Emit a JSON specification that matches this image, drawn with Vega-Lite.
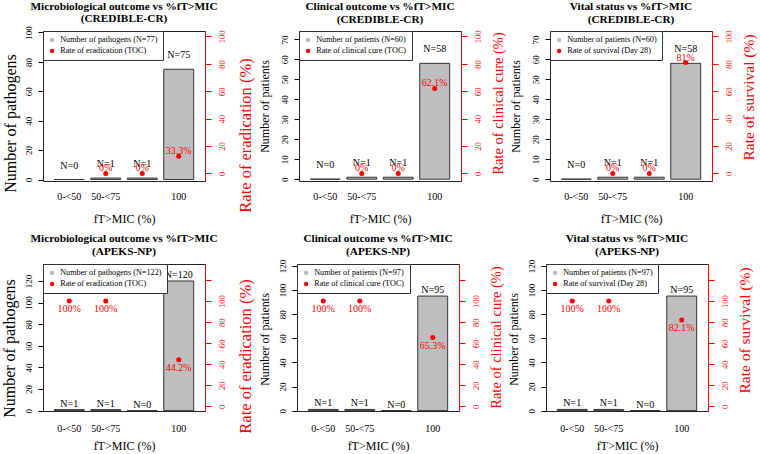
{
  "$schema": "https://vega.github.io/schema/vega-lite/v6.json",
  "padding": {"left": 0, "top": 0, "right": 0, "bottom": 0},
  "autosize": {"type": "pad"},
  "background": "white",
  "config": {
    "font": "Liberation Serif",
    "view": {"stroke": "#222", "strokeWidth": 1},
    "text": {"font": "Liberation Serif"},
    "axis": {"grid": false, "labelOverlap": false, "labelFont": "Liberation Serif", "titleFont": "Liberation Serif", "titleFontWeight": "normal", "labelColor": "black", "titleColor": "black", "tickColor": "black", "domainColor": "black"},
    "title": {"font": "Liberation Serif", "fontSize": 11.3, "fontWeight": "bold", "lineHeight": 12.5, "offset": 5, "color": "black"},
    "legend": {"orient": "top-left", "offset": 0, "padding": 5, "strokeColor": "#333", "fillColor": "white", "labelFont": "Liberation Serif", "labelFontSize": 8.2, "symbolType": "circle", "symbolSize": 20, "symbolStrokeWidth": 0, "rowPadding": 2, "labelOffset": 4, "labelLimit": 300, "cornerRadius": 0, "title": null}
  },
  "datasets": {
    "p1": [
      {"cat": "0-<50", "n": 0, "nlab": "N=0", "rate": null, "pct": null},
      {"cat": "50-<75", "n": 1, "nlab": "N=1", "rate": 0, "pct": "0%"},
      {"cat": "75-<100", "n": 1, "nlab": "N=1", "rate": 0, "pct": "0%"},
      {"cat": "100", "n": 75, "nlab": "N=75", "rate": 12.6, "pct": "33.3%"}
    ],
    "p2": [
      {"cat": "0-<50", "n": 0, "nlab": "N=0", "rate": null, "pct": null},
      {"cat": "50-<75", "n": 1, "nlab": "N=1", "rate": 0, "pct": "0%"},
      {"cat": "75-<100", "n": 1, "nlab": "N=1", "rate": 0, "pct": "0%"},
      {"cat": "100", "n": 58, "nlab": "N=58", "rate": 62.1, "pct": "62.1%"}
    ],
    "p3": [
      {"cat": "0-<50", "n": 0, "nlab": "N=0", "rate": null, "pct": null},
      {"cat": "50-<75", "n": 1, "nlab": "N=1", "rate": 0, "pct": "0%"},
      {"cat": "75-<100", "n": 1, "nlab": "N=1", "rate": 0, "pct": "0%"},
      {"cat": "100", "n": 58, "nlab": "N=58", "rate": 81, "pct": "81%"}
    ],
    "p4": [
      {"cat": "0-<50", "n": 1, "nlab": "N=1", "rate": 100, "pct": "100%"},
      {"cat": "50-<75", "n": 1, "nlab": "N=1", "rate": 100, "pct": "100%"},
      {"cat": "75-<100", "n": 0, "nlab": "N=0", "rate": null, "pct": null},
      {"cat": "100", "n": 120, "nlab": "N=120", "rate": 44.2, "pct": "44.2%"}
    ],
    "p5": [
      {"cat": "0-<50", "n": 1, "nlab": "N=1", "rate": 100, "pct": "100%"},
      {"cat": "50-<75", "n": 1, "nlab": "N=1", "rate": 100, "pct": "100%"},
      {"cat": "75-<100", "n": 0, "nlab": "N=0", "rate": null, "pct": null},
      {"cat": "100", "n": 95, "nlab": "N=95", "rate": 65.3, "pct": "65.3%"}
    ],
    "p6": [
      {"cat": "0-<50", "n": 1, "nlab": "N=1", "rate": 100, "pct": "100%"},
      {"cat": "50-<75", "n": 1, "nlab": "N=1", "rate": 100, "pct": "100%"},
      {"cat": "75-<100", "n": 0, "nlab": "N=0", "rate": null, "pct": null},
      {"cat": "100", "n": 95, "nlab": "N=95", "rate": 82.1, "pct": "82.1%"}
    ]
  },
  "resolve": {"scale": {"color": "independent"}, "legend": {"color": "independent"}},
  "spacing": 7,
  "vconcat": [
    {
      "spacing": 3,
      "resolve": {"scale": {"color": "independent"}, "legend": {"color": "independent"}},
      "hconcat": [
        {
          "title": {"text": ["Microbiological outcome vs %fT>MIC", "(CREDIBLE-CR)"], "offset": 1},
          "width": 162, "height": 150,
          "data": {"name": "p1"},
          "encoding": {"x": {"field": "cat", "type": "nominal", "sort": ["0-<50", "50-<75", "75-<100", "100"], "scale": {"paddingInner": 0.18, "paddingOuter": 0.31}, "axis": {"title": "fT>MIC (%)", "labelAngle": 0, "ticks": false, "domain": false, "labelPadding": 10, "labelExpr": "datum.value == '75-<100' ? '' : datum.label", "titlePadding": 12, "labelFontSize": 10, "titleFontSize": 12}}},
          "layer": [
            {"layer": [
              {"mark": {"type": "bar", "stroke": "#333", "strokeWidth": 1},
               "encoding": {
                 "y": {"field": "n", "type": "quantitative", "scale": {"domain": [-1, 101], "nice": false, "zero": false}, "axis": {"values": [0, 20, 40, 60, 80, 100], "tickCount": 20, "labelOverlap": false, "title": "Number of pathogens", "labelAngle": -90, "labelAlign": "center", "labelBaseline": "bottom", "tickSize": 5, "labelPadding": 5, "labelFontSize": 9, "titleFontSize": 16, "titleX": -33, "titleY": 92, "titleAngle": 270, "titleAlign": "center", "titleBaseline": "middle", "domain": false}},
                 "color": {"datum": "Number of pathogens (N=77)", "type": "nominal", "scale": {"domain": ["Number of pathogens (N=77)", "Rate of eradication (TOC)"], "range": ["#BEBEBE", "#FF0000"]}}}},
              {"mark": {"type": "text", "dy": -14, "fontSize": 10, "color": "black"},
               "encoding": {"y": {"field": "n", "type": "quantitative"}, "text": {"field": "nlab"}}}
            ]},
            {"transform": [{"filter": "datum.rate != null"}],
             "layer": [
              {"mark": {"type": "point", "filled": true, "size": 25, "opacity": 1},
               "encoding": {
                 "y": {"field": "rate", "type": "quantitative", "scale": {"domain": [-5.5, 104], "nice": false, "zero": false}, "axis": {"orient": "right", "values": [0, 20, 40, 60, 80, 100], "tickCount": 20, "labelOverlap": false, "title": "Rate of eradication (%)", "labelAngle": -90, "labelAlign": "center", "labelBaseline": "top", "tickSize": 6, "labelPadding": 6, "labelFontSize": 8.5, "titleFontSize": 16.5, "titleX": 40, "titleY": 104, "titleAngle": 270, "titleAlign": "center", "titleBaseline": "middle", "labelColor": "red", "tickColor": "red", "domainColor": "red", "titleColor": "red"}},
                 "color": {"datum": "Rate of eradication (TOC)", "type": "nominal"}}},
              {"mark": {"type": "text", "dy": -5, "fontSize": 10, "color": "red"},
               "encoding": {"y": {"field": "rate", "type": "quantitative"}, "text": {"field": "pct"}}}
            ]}
          ],
          "resolve": {"scale": {"y": "independent"}}
        },
        {
          "title": {"text": ["Clinical outcome vs %fT>MIC", "(CREDIBLE-CR)"], "offset": 5},
          "width": 162, "height": 150,
          "data": {"name": "p2"},
          "encoding": {"x": {"field": "cat", "type": "nominal", "sort": ["0-<50", "50-<75", "75-<100", "100"], "scale": {"paddingInner": 0.18, "paddingOuter": 0.31}, "axis": {"title": "fT>MIC (%)", "labelAngle": 0, "ticks": false, "domain": false, "labelPadding": 10, "labelExpr": "datum.value == '75-<100' ? '' : datum.label", "titlePadding": 12, "labelFontSize": 10, "titleFontSize": 12}}},
          "layer": [
            {"layer": [
              {"mark": {"type": "bar", "stroke": "#333", "strokeWidth": 1},
               "encoding": {
                 "y": {"field": "n", "type": "quantitative", "scale": {"domain": [-0.9, 74.2], "nice": false, "zero": false}, "axis": {"values": [0, 10, 20, 30, 40, 50, 60, 70], "tickCount": 20, "labelOverlap": false, "title": "Number of patients", "labelAngle": -90, "labelAlign": "center", "labelBaseline": "bottom", "tickSize": 5, "labelPadding": 5, "labelFontSize": 9, "titleFontSize": 12, "titleX": -35, "titleY": 75, "titleAngle": 270, "titleAlign": "center", "titleBaseline": "middle", "domain": false}},
                 "color": {"datum": "Number of patients (N=60)", "type": "nominal", "scale": {"domain": ["Number of patients (N=60)", "Rate of clinical cure (TOC)"], "range": ["#BEBEBE", "#FF0000"]}}}},
              {"mark": {"type": "text", "dy": -14, "fontSize": 10, "color": "black"},
               "encoding": {"y": {"field": "n", "type": "quantitative"}, "text": {"field": "nlab"}}}
            ]},
            {"transform": [{"filter": "datum.rate != null"}],
             "layer": [
              {"mark": {"type": "point", "filled": true, "size": 25, "opacity": 1},
               "encoding": {
                 "y": {"field": "rate", "type": "quantitative", "scale": {"domain": [-5.5, 104], "nice": false, "zero": false}, "axis": {"orient": "right", "values": [0, 20, 40, 60, 80, 100], "tickCount": 20, "labelOverlap": false, "title": "Rate of clinical cure (%)", "labelAngle": -90, "labelAlign": "center", "labelBaseline": "top", "tickSize": 6, "labelPadding": 6, "labelFontSize": 8.5, "titleFontSize": 14.5, "titleX": 37, "titleY": 72, "titleAngle": 270, "titleAlign": "center", "titleBaseline": "middle", "labelColor": "red", "tickColor": "red", "domainColor": "red", "titleColor": "red"}},
                 "color": {"datum": "Rate of clinical cure (TOC)", "type": "nominal"}}},
              {"mark": {"type": "text", "dy": -5, "fontSize": 10, "color": "red"},
               "encoding": {"y": {"field": "rate", "type": "quantitative"}, "text": {"field": "pct"}}}
            ]}
          ],
          "resolve": {"scale": {"y": "independent"}}
        },
        {
          "title": {"text": ["Vital status vs %fT>MIC", "(CREDIBLE-CR)"], "offset": 5},
          "width": 162, "height": 150,
          "data": {"name": "p3"},
          "encoding": {"x": {"field": "cat", "type": "nominal", "sort": ["0-<50", "50-<75", "75-<100", "100"], "scale": {"paddingInner": 0.18, "paddingOuter": 0.31}, "axis": {"title": "fT>MIC (%)", "labelAngle": 0, "ticks": false, "domain": false, "labelPadding": 10, "labelExpr": "datum.value == '75-<100' ? '' : datum.label", "titlePadding": 12, "labelFontSize": 10, "titleFontSize": 12}}},
          "layer": [
            {"layer": [
              {"mark": {"type": "bar", "stroke": "#333", "strokeWidth": 1},
               "encoding": {
                 "y": {"field": "n", "type": "quantitative", "scale": {"domain": [-0.9, 74.2], "nice": false, "zero": false}, "axis": {"values": [0, 10, 20, 30, 40, 50, 60, 70], "tickCount": 20, "labelOverlap": false, "title": "Number of patients", "labelAngle": -90, "labelAlign": "center", "labelBaseline": "bottom", "tickSize": 5, "labelPadding": 5, "labelFontSize": 9, "titleFontSize": 12, "titleX": -35, "titleY": 75, "titleAngle": 270, "titleAlign": "center", "titleBaseline": "middle", "domain": false}},
                 "color": {"datum": "Number of patients (N=60)", "type": "nominal", "scale": {"domain": ["Number of patients (N=60)", "Rate of survival (Day 28)"], "range": ["#BEBEBE", "#FF0000"]}}}},
              {"mark": {"type": "text", "dy": -14, "fontSize": 10, "color": "black"},
               "encoding": {"y": {"field": "n", "type": "quantitative"}, "text": {"field": "nlab"}}}
            ]},
            {"transform": [{"filter": "datum.rate != null"}],
             "layer": [
              {"mark": {"type": "point", "filled": true, "size": 25, "opacity": 1},
               "encoding": {
                 "y": {"field": "rate", "type": "quantitative", "scale": {"domain": [-5.5, 104], "nice": false, "zero": false}, "axis": {"orient": "right", "values": [0, 20, 40, 60, 80, 100], "tickCount": 20, "labelOverlap": false, "title": "Rate of survival (%)", "labelAngle": -90, "labelAlign": "center", "labelBaseline": "top", "tickSize": 6, "labelPadding": 6, "labelFontSize": 8.5, "titleFontSize": 15.5, "titleX": 36, "titleY": 66, "titleAngle": 270, "titleAlign": "center", "titleBaseline": "middle", "labelColor": "red", "tickColor": "red", "domainColor": "red", "titleColor": "red"}},
                 "color": {"datum": "Rate of survival (Day 28)", "type": "nominal"}}},
              {"mark": {"type": "text", "dy": -5, "fontSize": 10, "color": "red"},
               "encoding": {"y": {"field": "rate", "type": "quantitative"}, "text": {"field": "pct"}}}
            ]}
          ],
          "resolve": {"scale": {"y": "independent"}}
        }
      ]
    },
    {
      "spacing": 3,
      "resolve": {"scale": {"color": "independent"}, "legend": {"color": "independent"}},
      "hconcat": [
        {
          "title": {"text": ["Microbiological outcome vs %fT>MIC", "(APEKS-NP)"], "offset": 6.5},
          "width": 162, "height": 147,
          "data": {"name": "p4"},
          "encoding": {"x": {"field": "cat", "type": "nominal", "sort": ["0-<50", "50-<75", "75-<100", "100"], "scale": {"paddingInner": 0.18, "paddingOuter": 0.31}, "axis": {"title": "fT>MIC (%)", "labelAngle": 0, "ticks": false, "domain": false, "labelPadding": 12, "labelExpr": "datum.value == '75-<100' ? '' : datum.label", "titlePadding": 7, "labelFontSize": 10, "titleFontSize": 12}}},
          "layer": [
            {"layer": [
              {"mark": {"type": "bar", "stroke": "#333", "strokeWidth": 1},
               "encoding": {
                 "y": {"field": "n", "type": "quantitative", "scale": {"domain": [-0.3, 135.7], "nice": false, "zero": false}, "axis": {"values": [0, 20, 40, 60, 80, 100, 120], "tickCount": 20, "labelOverlap": false, "title": "Number of pathogens", "labelAngle": -90, "labelAlign": "center", "labelBaseline": "bottom", "tickSize": 5, "labelPadding": 5, "labelFontSize": 9, "titleFontSize": 16, "titleX": -34, "titleY": 84, "titleAngle": 270, "titleAlign": "center", "titleBaseline": "middle", "domain": false}},
                 "color": {"datum": "Number of pathogens (N=122)", "type": "nominal", "scale": {"domain": ["Number of pathogens (N=122)", "Rate of eradication (TOC)"], "range": ["#BEBEBE", "#FF0000"]}}}},
              {"mark": {"type": "text", "dy": -6, "fontSize": 10, "color": "black"},
               "encoding": {"y": {"field": "n", "type": "quantitative"}, "text": {"field": "nlab"}}}
            ]},
            {"transform": [{"filter": "datum.rate != null"}],
             "layer": [
              {"mark": {"type": "point", "filled": true, "size": 25, "opacity": 1},
               "encoding": {
                 "y": {"field": "rate", "type": "quantitative", "scale": {"domain": [-4.4, 135.2], "nice": false, "zero": false}, "axis": {"orient": "right", "values": [0, 20, 40, 60, 80, 100, 120], "tickCount": 20, "labelOverlap": false, "labelExpr": "datum.value > 100 ? '' : datum.label", "title": "Rate of eradication (%)", "labelAngle": -90, "labelAlign": "center", "labelBaseline": "top", "tickSize": 6, "labelPadding": 6, "labelFontSize": 8.5, "titleFontSize": 16.5, "titleX": 40, "titleY": 92, "titleAngle": 270, "titleAlign": "center", "titleBaseline": "middle", "labelColor": "red", "tickColor": "red", "domainColor": "red", "titleColor": "red"}},
                 "color": {"datum": "Rate of eradication (TOC)", "type": "nominal"}}},
              {"mark": {"type": "text", "dy": 8, "fontSize": 10, "color": "red"},
               "encoding": {"y": {"field": "rate", "type": "quantitative"}, "text": {"field": "pct"}}}
            ]}
          ],
          "resolve": {"scale": {"y": "independent"}}
        },
        {
          "title": {"text": ["Clinical outcome vs %fT>MIC", "(APEKS-NP)"], "offset": 2},
          "width": 162, "height": 147,
          "data": {"name": "p5"},
          "encoding": {"x": {"field": "cat", "type": "nominal", "sort": ["0-<50", "50-<75", "75-<100", "100"], "scale": {"paddingInner": 0.18, "paddingOuter": 0.31}, "axis": {"title": "fT>MIC (%)", "labelAngle": 0, "ticks": false, "domain": false, "labelPadding": 12, "labelExpr": "datum.value == '75-<100' ? '' : datum.label", "titlePadding": 7, "labelFontSize": 10, "titleFontSize": 12}}},
          "layer": [
            {"layer": [
              {"mark": {"type": "bar", "stroke": "#333", "strokeWidth": 1},
               "encoding": {
                 "y": {"field": "n", "type": "quantitative", "scale": {"domain": [-0.3, 121.6], "nice": false, "zero": false}, "axis": {"values": [0, 20, 40, 60, 80, 100, 120], "tickCount": 20, "labelOverlap": false, "title": "Number of patients", "labelAngle": -90, "labelAlign": "center", "labelBaseline": "bottom", "tickSize": 5, "labelPadding": 5, "labelFontSize": 9, "titleFontSize": 12, "titleX": -33, "titleY": 75, "titleAngle": 270, "titleAlign": "center", "titleBaseline": "middle", "domain": false}},
                 "color": {"datum": "Number of patients (N=97)", "type": "nominal", "scale": {"domain": ["Number of patients (N=97)", "Rate of clinical cure (TOC)"], "range": ["#BEBEBE", "#FF0000"]}}}},
              {"mark": {"type": "text", "dy": -6, "fontSize": 10, "color": "black"},
               "encoding": {"y": {"field": "n", "type": "quantitative"}, "text": {"field": "nlab"}}}
            ]},
            {"transform": [{"filter": "datum.rate != null"}],
             "layer": [
              {"mark": {"type": "point", "filled": true, "size": 25, "opacity": 1},
               "encoding": {
                 "y": {"field": "rate", "type": "quantitative", "scale": {"domain": [-4.4, 135.2], "nice": false, "zero": false}, "axis": {"orient": "right", "values": [0, 20, 40, 60, 80, 100, 120], "tickCount": 20, "labelOverlap": false, "labelExpr": "datum.value > 100 ? '' : datum.label", "title": "Rate of clinical cure (%)", "labelAngle": -90, "labelAlign": "center", "labelBaseline": "top", "tickSize": 6, "labelPadding": 6, "labelFontSize": 8.5, "titleFontSize": 14.5, "titleX": 37, "titleY": 73, "titleAngle": 270, "titleAlign": "center", "titleBaseline": "middle", "labelColor": "red", "tickColor": "red", "domainColor": "red", "titleColor": "red"}},
                 "color": {"datum": "Rate of clinical cure (TOC)", "type": "nominal"}}},
              {"mark": {"type": "text", "dy": 8, "fontSize": 10, "color": "red"},
               "encoding": {"y": {"field": "rate", "type": "quantitative"}, "text": {"field": "pct"}}}
            ]}
          ],
          "resolve": {"scale": {"y": "independent"}}
        },
        {
          "title": {"text": ["Vital status vs %fT>MIC", "(APEKS-NP)"], "offset": 2},
          "width": 162, "height": 147,
          "data": {"name": "p6"},
          "encoding": {"x": {"field": "cat", "type": "nominal", "sort": ["0-<50", "50-<75", "75-<100", "100"], "scale": {"paddingInner": 0.18, "paddingOuter": 0.31}, "axis": {"title": "fT>MIC (%)", "labelAngle": 0, "ticks": false, "domain": false, "labelPadding": 12, "labelExpr": "datum.value == '75-<100' ? '' : datum.label", "titlePadding": 7, "labelFontSize": 10, "titleFontSize": 12}}},
          "layer": [
            {"layer": [
              {"mark": {"type": "bar", "stroke": "#333", "strokeWidth": 1},
               "encoding": {
                 "y": {"field": "n", "type": "quantitative", "scale": {"domain": [-0.3, 121.6], "nice": false, "zero": false}, "axis": {"values": [0, 20, 40, 60, 80, 100, 120], "tickCount": 20, "labelOverlap": false, "title": "Number of patients", "labelAngle": -90, "labelAlign": "center", "labelBaseline": "bottom", "tickSize": 5, "labelPadding": 5, "labelFontSize": 9, "titleFontSize": 12, "titleX": -33, "titleY": 75, "titleAngle": 270, "titleAlign": "center", "titleBaseline": "middle", "domain": false}},
                 "color": {"datum": "Number of patients (N=97)", "type": "nominal", "scale": {"domain": ["Number of patients (N=97)", "Rate of survival (Day 28)"], "range": ["#BEBEBE", "#FF0000"]}}}},
              {"mark": {"type": "text", "dy": -6, "fontSize": 10, "color": "black"},
               "encoding": {"y": {"field": "n", "type": "quantitative"}, "text": {"field": "nlab"}}}
            ]},
            {"transform": [{"filter": "datum.rate != null"}],
             "layer": [
              {"mark": {"type": "point", "filled": true, "size": 25, "opacity": 1},
               "encoding": {
                 "y": {"field": "rate", "type": "quantitative", "scale": {"domain": [-4.4, 135.2], "nice": false, "zero": false}, "axis": {"orient": "right", "values": [0, 20, 40, 60, 80, 100, 120], "tickCount": 20, "labelOverlap": false, "labelExpr": "datum.value > 100 ? '' : datum.label", "title": "Rate of survival (%)", "labelAngle": -90, "labelAlign": "center", "labelBaseline": "top", "tickSize": 6, "labelPadding": 6, "labelFontSize": 8.5, "titleFontSize": 15.5, "titleX": 36, "titleY": 66, "titleAngle": 270, "titleAlign": "center", "titleBaseline": "middle", "labelColor": "red", "tickColor": "red", "domainColor": "red", "titleColor": "red"}},
                 "color": {"datum": "Rate of survival (Day 28)", "type": "nominal"}}},
              {"mark": {"type": "text", "dy": 8, "fontSize": 10, "color": "red"},
               "encoding": {"y": {"field": "rate", "type": "quantitative"}, "text": {"field": "pct"}}}
            ]}
          ],
          "resolve": {"scale": {"y": "independent"}}
        }
      ]
    }
  ]
}
